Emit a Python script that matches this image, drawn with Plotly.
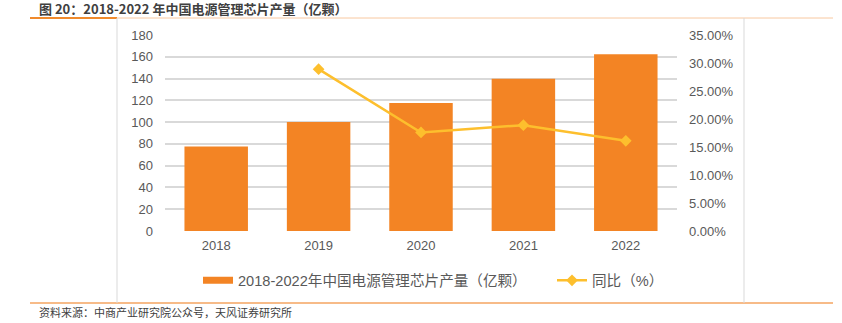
import plotly.graph_objects as go

# Annual output of power-management chips in China (100 million units) and YoY growth
years = ["2018", "2019", "2020", "2021", "2022"]
output = [77.6, 100.0, 117.6, 139.8, 162.3]
yoy_years = ["2019", "2020", "2021", "2022"]
yoy = [0.289, 0.176, 0.189, 0.161]

bar_name = "2018-2022年中国电源管理芯片产量（亿颗）"
line_name = "同比（%）"
title_text = "图 20：2018-2022 年中国电源管理芯片产量（亿颗）"
source_text = "资料来源：中商产业研究院公众号，天风证券研究所"

FONT = "Liberation Sans, Arial, Noto Sans CJK SC, sans-serif"
CJK = "Noto Sans CJK SC, sans-serif"
BAR = "#F38424"
LINE = "#FDBF2D"
GRID = "#D9D9D9"
TICK = "#595959"

fig = go.Figure()
# legend entry for the bars, drawn as a wide flat swatch
fig.add_trace(go.Scatter(
    x=[None], y=[None], name=bar_name, mode="lines",
    line=dict(color=BAR, width=7), yaxis="y", legend="legend",
))
fig.add_trace(go.Bar(
    x=years, y=output, name=bar_name, showlegend=False,
    marker=dict(color=BAR, line=dict(width=0)),
    yaxis="y",
))
fig.add_trace(go.Scatter(
    x=yoy_years, y=yoy, name=line_name, mode="lines+markers",
    line=dict(color=LINE, width=2.5),
    marker=dict(symbol="diamond", size=9, color=LINE),
    yaxis="y2", legend="legend2",
))

legend_common = dict(
    orientation="h", xanchor="left", y=-0.17, yanchor="top",
    font=dict(family=FONT, size=14.6, color=TICK),
    itemwidth=30, bgcolor="rgba(0,0,0,0)",
)

fig.update_layout(
    width=842, height=323,
    margin=dict(l=165, r=165, t=35, b=92),
    paper_bgcolor="white", plot_bgcolor="white",
    font=dict(family=FONT, color=TICK, size=13),
    bargap=0.38,
    showlegend=True,
    legend=dict(x=(198 - 165) / 512, **legend_common),
    legend2=dict(x=(552 - 165) / 512, **legend_common),
    xaxis=dict(
        showgrid=False, showline=False, ticks="",
        tickfont=dict(size=13, color=TICK), ticklabelstandoff=5,
    ),
    yaxis=dict(
        range=[0, 180], dtick=20, showgrid=True, gridcolor=GRID, gridwidth=1.5,
        zeroline=False, showline=False, ticks="",
        tickfont=dict(size=13, color=TICK), ticklabelstandoff=11,
    ),
    yaxis2=dict(
        range=[0, 0.35], dtick=0.05, tickformat=".2%", overlaying="y",
        side="right", showgrid=False, zeroline=False, showline=False, ticks="",
        tickfont=dict(size=13, color=TICK), ticklabelstandoff=11,
    ),
    shapes=[
        # header rule
        dict(type="line", xref="paper", yref="paper", x0=-135 / 512, x1=668 / 512,
             y0=1 + 17 / 196, y1=1 + 17 / 196, line=dict(color="#F8C8A0", width=1)),
        dict(type="line", xref="paper", yref="paper", x0=-135 / 512, x1=-48 / 512,
             y0=1 + 17 / 196, y1=1 + 17 / 196, line=dict(color="#F08A2C", width=2)),
        # footer rule
        dict(type="line", xref="paper", yref="paper", x0=-135 / 512, x1=668 / 512,
             y0=-72 / 196, y1=-72 / 196, line=dict(color="#F4A460", width=1.5)),
        # chart frame sides
        dict(type="line", xref="paper", yref="paper", x0=-48 / 512, x1=-48 / 512,
             y0=-72 / 196, y1=1 + 17 / 196, line=dict(color=GRID, width=1)),
        dict(type="line", xref="paper", yref="paper", x0=579 / 512, x1=579 / 512,
             y0=-72 / 196, y1=1 + 17 / 196, line=dict(color=GRID, width=1)),
    ],
    annotations=[
        dict(text=title_text, xref="paper", yref="paper", x=-128 / 512, y=1 + 27 / 196,
             xanchor="left", yanchor="middle", showarrow=False,
             font=dict(family=CJK, size=13, color="#404040", weight="bold")),
        dict(text=source_text, xref="paper", yref="paper", x=-128 / 512, y=-81 / 196,
             xanchor="left", yanchor="middle", showarrow=False,
             font=dict(family=CJK, size=11, color="#404040")),
    ],
)

fig.write_html("out.html")
